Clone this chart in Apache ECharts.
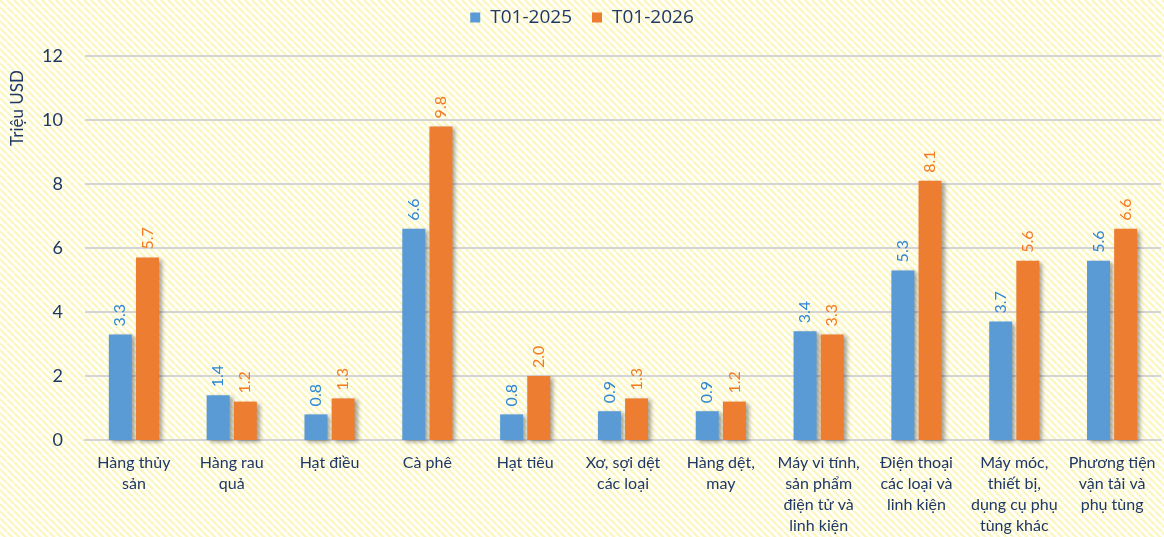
<!DOCTYPE html>
<html>
<head>
<meta charset="utf-8">
<script src="https://cdn.jsdelivr.net/npm/echarts@6/dist/echarts.min.js"></script>
<style>
  html, body { margin: 0; padding: 0; }
  #chart { width: 1164px; height: 537px; }
</style>
</head>
<body>
<div id="chart"></div>
<script>
// dữ liệu
var categories = [
   'Hàng thủy\nsản', 'Hàng rau\nquả', 'Hạt điều', 'Cà phê', 'Hạt tiêu',
   'Xơ, sợi dệt\ncác loại', 'Hàng dệt,\nmay', 'Máy vi tính,\nsản phẩm\nđiện tử và\nlinh kiện',
   'Điện thoại\ncác loại và\nlinh kiện', 'Máy móc,\nthiết bị,\ndụng cụ phụ\ntùng khác', 'Phương tiện\nvận tải và\nphụ tùng'
];
var values2025 = [3.3, 1.4, 0.8, 6.6, 0.8, 0.9, 0.9, 3.4, 5.3, 3.7, 5.6];
var values2026 = [5.7, 1.2, 1.3, 9.8, 2.0, 1.3, 1.2, 3.3, 8.1, 5.6, 6.6];
var yTicks = [0, 2, 4, 6, 8, 10, 12];

// nền sọc chéo vàng nhạt
var pat = document.createElement('canvas');
pat.width = 7; pat.height = 7;
var ctx = pat.getContext('2d');
ctx.fillStyle = '#ffffff';
ctx.fillRect(0, 0, 7, 7);
ctx.strokeStyle = '#fcf6c0';
ctx.lineWidth = 2.5;
for (var k = -1; k <= 1; k++) {
   ctx.beginPath();
   ctx.moveTo(k * 7, 0);
   ctx.lineTo(k * 7 + 7, 7);
   ctx.stroke();
}

var font = 'Lato, "Open Sans", sans-serif';
var textColor = '#1f3864';

function labelOf(color) {
   return {
      show: true,
      position: 'top',
      rotate: 90,
      align: 'left',
      verticalAlign: 'middle',
      distance: 8,
      color: color,
      fontSize: 16,
      fontFamily: font,
      formatter: function (p) { return p.value.toFixed(1); }
   };
}

var chart = echarts.init(document.getElementById('chart'));
var option = {
   backgroundColor: { image: pat, repeat: 'repeat' },
   animation: false,
   legend: {
      top: 3,
      left: 'center',
      itemWidth: 10,
      itemHeight: 10,
      itemGap: 20,
      icon: 'rect',
      textStyle: {
         color: textColor, fontSize: 19, fontFamily: '"Open Sans", sans-serif',
         padding: [0, 0, 0, 5]
      }
   },
   // nhãn trục tung
   graphic: [{
      type: 'text',
      x: 18,
      y: 108,
      rotation: Math.PI / 2,
      style: {
         text: 'Triệu USD',
         fill: textColor,
         fontSize: 17,
         fontFamily: font,
         align: 'center',
         verticalAlign: 'middle'
      }
   }],
   grid: { left: 85, right: 3, top: 56, bottom: 97, containLabel: false },
   xAxis: {
      type: 'category',
      data: categories,
      axisTick: { show: false },
      axisLine: { lineStyle: { color: '#d4d4d4', width: 2 } },
      axisLabel: {
         color: textColor, fontSize: 16, fontFamily: font,
         lineHeight: 21, margin: 12, interval: 0
      }
   },
   yAxis: {
      type: 'value',
      min: yTicks[0],
      max: yTicks[yTicks.length - 1],
      interval: 2,
      axisLabel: { color: textColor, fontSize: 18, fontFamily: font, margin: 22 },
      splitLine: { lineStyle: { color: '#d4d4d4', width: 2 } }
   },
   series: [
      {
         name: 'T01-2025',
         type: 'bar',
         data: values2025,
         barWidth: 23,
         barGap: '18%',
         itemStyle: {
            color: '#5b9bd5',
            shadowColor: 'rgba(0,0,0,0.35)', shadowBlur: 4, shadowOffsetX: 3, shadowOffsetY: 2
         },
         label: labelOf('#2e86d4')
      },
      {
         name: 'T01-2026',
         type: 'bar',
         data: values2026,
         barWidth: 23,
         barGap: '18%',
         itemStyle: {
            color: '#ed7d31',
            shadowColor: 'rgba(0,0,0,0.35)', shadowBlur: 4, shadowOffsetX: 3, shadowOffsetY: 2
         },
         label: labelOf('#f47a22')
      }
   ]
};
chart.setOption(option);
</script>
</body>
</html>
